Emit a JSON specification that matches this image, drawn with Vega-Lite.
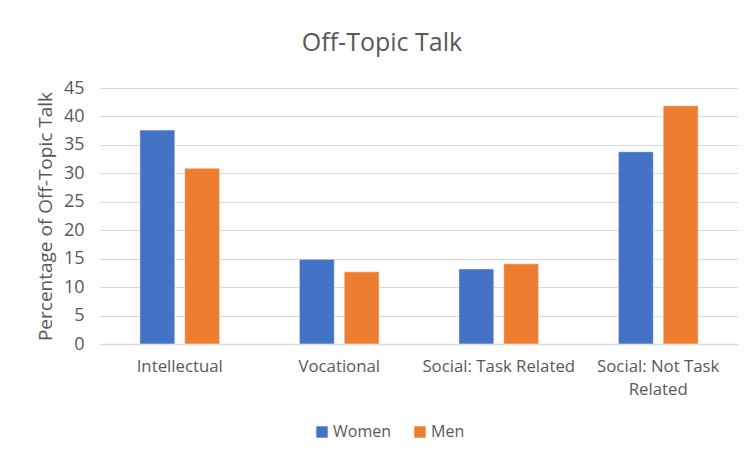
{
  "$schema": "https://vega.github.io/schema/vega-lite/v6.json",
  "autosize": {"type": "none"},
  "width": 638,
  "height": 256,
  "padding": {"left": 100, "top": 88, "right": 12, "bottom": 113},
  "background": "white",
  "title": {
    "text": "Off-Topic Talk",
    "font": "Open Sans",
    "fontSize": 25,
    "fontWeight": "normal",
    "color": "#595959",
    "anchor": "middle",
    "dx": -37,
    "offset": 23
  },
  "data": {
    "values": [
      {"category": "Intellectual", "gender": "Women", "value": 37.6},
      {"category": "Intellectual", "gender": "Men", "value": 30.9},
      {"category": "Vocational", "gender": "Women", "value": 14.9},
      {"category": "Vocational", "gender": "Men", "value": 12.7},
      {"category": "Social: Task Related", "gender": "Women", "value": 13.2},
      {"category": "Social: Task Related", "gender": "Men", "value": 14.1},
      {"category": "Social: Not Task Related", "gender": "Women", "value": 33.8},
      {"category": "Social: Not Task Related", "gender": "Men", "value": 41.9}
    ]
  },
  "mark": {"type": "bar", "stroke": "#ffffff", "strokeWidth": 0.5},
  "encoding": {
    "x": {
      "field": "category",
      "type": "nominal",
      "sort": ["Intellectual", "Vocational", "Social: Task Related", "Social: Not Task Related"],
      "scale": {"paddingInner": 0.5, "paddingOuter": 0.25},
      "axis": {
        "title": null,
        "labelAngle": 0,
        "labelFont": "Open Sans",
        "labelFontSize": 16.8,
        "labelColor": "#595959",
        "labelPadding": 14,
        "labelLineHeight": 23,
        "labelExpr": "datum.value == 'Social: Not Task Related' ? ['Social: Not Task', 'Related'] : datum.label",
        "ticks": false,
        "domainColor": "#d9d9d9",
        "domainWidth": 1.5
      }
    },
    "xOffset": {
      "field": "gender",
      "type": "nominal",
      "sort": ["Women", "Men"],
      "scale": {"paddingInner": 0.22, "paddingOuter": 0}
    },
    "y": {
      "field": "value",
      "type": "quantitative",
      "scale": {"domain": [0, 45], "nice": false},
      "axis": {
        "values": [0, 5, 10, 15, 20, 25, 30, 35, 40, 45],
        "title": "Percentage of Off-Topic Talk",
        "titleFont": "Open Sans",
        "titleFontSize": 19,
        "titleFontWeight": "normal",
        "titleColor": "#595959",
        "titlePadding": 8,
        "labelFont": "Open Sans",
        "labelFontSize": 18,
        "labelColor": "#595959",
        "labelPadding": 16,
        "ticks": false,
        "domain": false,
        "gridColor": "#d9d9d9",
        "gridWidth": 1.2
      }
    },
    "color": {
      "field": "gender",
      "type": "nominal",
      "sort": ["Women", "Men"],
      "scale": {"domain": ["Women", "Men"], "range": ["#4472C4", "#ED7D31"]},
      "legend": {
        "title": null,
        "orient": "none",
        "legendX": 214,
        "legendY": 336,
        "direction": "horizontal",
        "symbolType": "square",
        "symbolSize": 130,
        "symbolStrokeWidth": 0,
        "labelFont": "Open Sans",
        "labelFontSize": 16,
        "labelColor": "#595959",
        "columnPadding": 20,
        "labelOffset": 3
      }
    }
  },
  "config": {"view": {"stroke": null}}
}
